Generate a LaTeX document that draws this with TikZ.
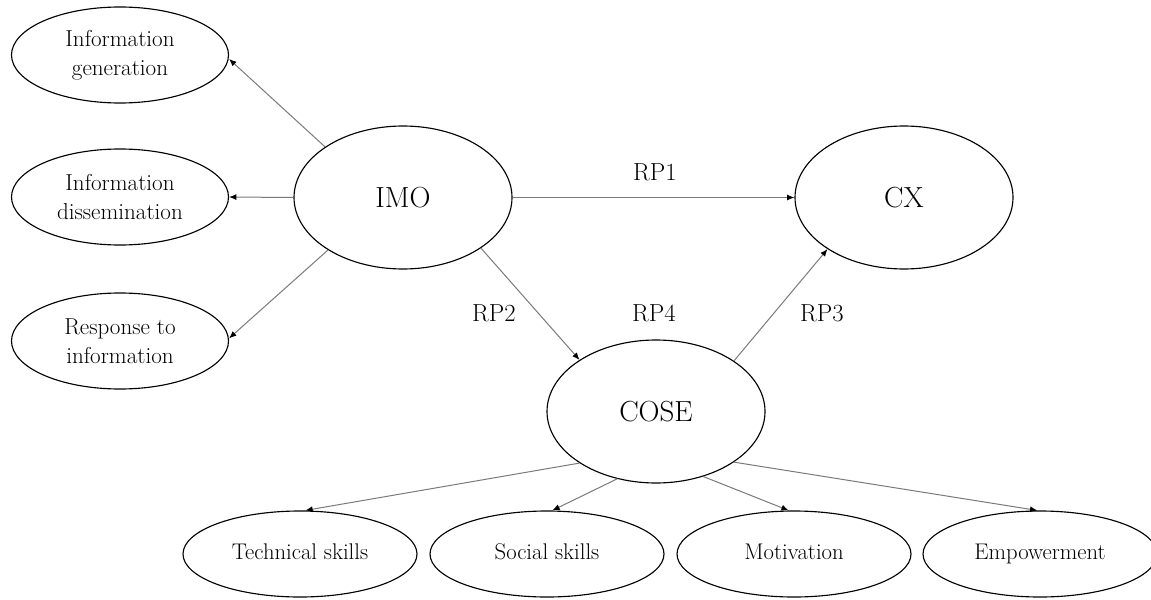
\documentclass[tikz,border=0pt]{standalone}
\usetikzlibrary{shapes.geometric,arrows.meta}
\begin{document}
\begin{tikzpicture}[x=0.75pt,y=-0.75pt,
  construct/.style={ellipse,draw=black,line width=0.85pt,inner sep=0pt,align=center},
  sideell/.style={construct,minimum width=217*0.75pt,minimum height=96*0.75pt,font=\fontsize{17.3}{22}\selectfont},
  botell/.style={construct,minimum width=234*0.75pt,minimum height=86*0.75pt,font=\fontsize{17}{22}\selectfont},
  bigell/.style={construct,minimum width=218*0.75pt,minimum height=143*0.75pt,font=\fontsize{21.8}{26}\selectfont},
  link/.style={draw=black!52,line width=0.75pt,-{Latex[length=5.5pt,width=4.5pt,color=black]}},
  rplabel/.style={inner sep=0pt,font=\fontsize{18.5}{22}\selectfont}]
\useasboundingbox (0,0) rectangle (1151,599);
% nodes
\node[sideell] (gen) at (120,55) {Information\\generation};
\node[sideell] (diss) at (120,197) {Information\\dissemination};
\node[sideell] (resp) at (120,341) {Response to\\information};
\node[bigell] (imo) at (403,197.5) {IMO};
\node[bigell] (cx) at (904,197.5) {CX};
\node[bigell] (cose) at (656,411.5) {COSE};
\node[botell] (tech) at (300,554) {\strut Technical skills};
\node[botell] (soc) at (547,554) {\strut Social skills};
\node[botell] (mot) at (794,554) {\strut Motivation};
\node[botell] (emp) at (1040,554) {\strut Empowerment};
% labels
\node[rplabel] (rp1) at (655,172) {RP1};
\node[rplabel] (rp2) at (494,313) {RP2};
\node[rplabel] (rp4) at (654,313) {RP4};
\node[rplabel] (rp3) at (822,313) {RP3};
% connectors
\draw[link] (imo.147) -- ([yshift=-3pt]gen.east);
\draw[link] (imo.west) -- (diss.east);
\draw[link] (imo.215.6) -- ([yshift=2pt]resp.east);
\draw[link] (imo.east) -- (cx.west);
\draw[link] (imo.-33.8) -- (cose.146.5);
\draw[link] (cose.33) -- (cx.214.5);
\draw[link] (cose.214) -- ([xshift=4pt]tech.north);
\draw[link] (cose.240.8) -- ([xshift=4pt]soc.north);
\draw[link] (cose.306) -- ([xshift=-4pt]mot.north);
\draw[link] (cose.-33.4) -- ([xshift=-2pt]emp.north);
\end{tikzpicture}
\end{document}
